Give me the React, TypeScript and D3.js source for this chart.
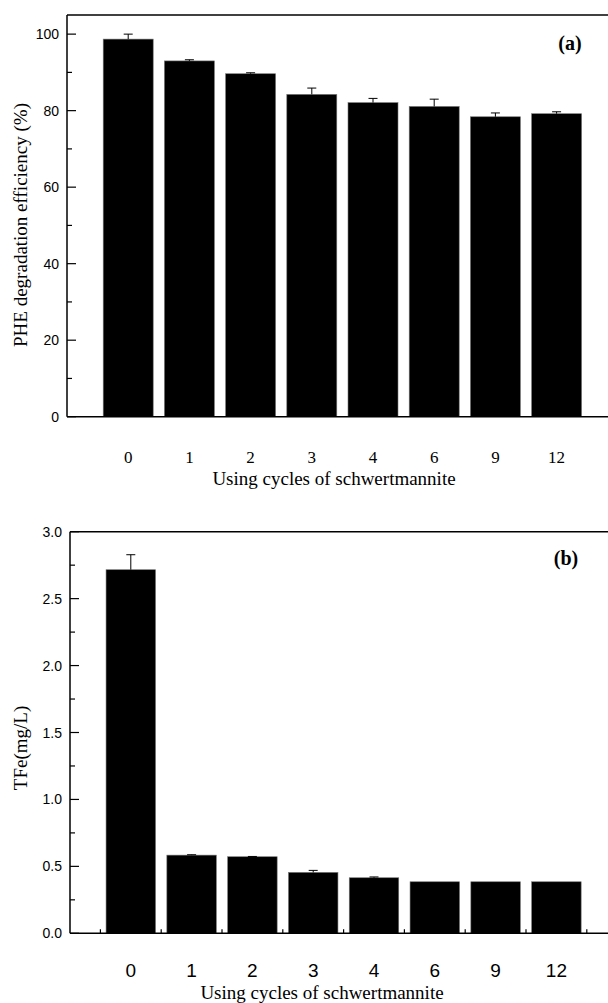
import React from "react";
import * as d3 from "d3";

const cycles = ["0", "1", "2", "3", "4", "6", "9", "12"];
const pheEfficiency = [98.7, 93.0, 89.65, 84.25, 82.1, 81.1, 78.4, 79.2];
const pheError = [1.3, 0.3, 0.25, 1.65, 1.1, 1.9, 1.0, 0.5];
const tfeValues = [2.716, 0.584, 0.572, 0.455, 0.415, 0.385, 0.385, 0.385];
const tfeError = [0.112, 0.003, 0.002, 0.015, 0.006, 0, 0, 0];
const yTicksA = [0, 20, 40, 60, 80, 100];
const yMinorA = [10, 30, 50, 70, 90];
const yTicksB = [0, 0.5, 1.0, 1.5, 2.0, 2.5, 3.0];
const yMinorB = [0.25, 0.75, 1.25, 1.75, 2.25, 2.75];

const SERIF = "'Liberation Serif', 'Times New Roman', serif";
const SANS = "'Liberation Sans', Arial, sans-serif";

type PanelProps = {
  values: number[];
  errors: number[];
  x0: number;
  step: number;
  top: number;
  bottom: number;
  yMax: number;
  ticks: number[];
  minor: number[];
  fmt: (v: number) => string;
  xLabelFont: string;
  xLabelSize: number;
  xLabelY: number;
  xTicks: boolean;
  titleX: number;
  titleY: number;
  yTitle: string;
  yTitleCenter: number;
  panelLabel: string;
  panelLabelX: number;
  panelLabelY: number;
  barW: number;
};

function Panel(p: PanelProps) {
  const x = d3.scaleLinear().domain([0, 9]).range([p.x0, p.x0 + p.step * 9]);
  const y = d3.scaleLinear().domain([0, p.yMax]).range([p.bottom, p.top]);
  const half = p.barW / 2;
  return (
    <g>
      {p.values.map((v, i) => (
        <rect
          key={"b" + i}
          x={x(i + 1) - half}
          y={y(v)}
          width={p.barW}
          height={y(0) - y(v)}
          fill="#000"
          stroke="#777"
          strokeWidth={0.6}
        />
      ))}
      {p.values.map((v, i) =>
        p.errors[i] > 0 ? (
          <g key={"e" + i} stroke="#000" strokeWidth={1}>
            <line x1={x(i + 1)} x2={x(i + 1)} y1={y(v)} y2={y(v + p.errors[i])} />
            <line x1={x(i + 1) - 4.5} x2={x(i + 1) + 4.5} y1={y(v + p.errors[i])} y2={y(v + p.errors[i])} />
          </g>
        ) : null
      )}
      <line x1={p.x0} x2={p.x0 + p.step * 9} y1={p.top} y2={p.top} stroke="#000" strokeWidth={1.5} />
      <line x1={p.x0} x2={p.x0} y1={p.top} y2={p.bottom} stroke="#000" strokeWidth={1.5} />
      <line x1={p.x0} x2={p.x0 + p.step * 9} y1={p.bottom} y2={p.bottom} stroke="#000" strokeWidth={1.5} />
      {p.ticks.map((t) => (
        <g key={"t" + t}>
          <line x1={p.x0} x2={p.x0 + 9} y1={y(t)} y2={y(t)} stroke="#000" strokeWidth={1.2} />
          <text
            x={p.x0 - 8}
            y={y(t)}
            dy="0.36em"
            textAnchor="end"
            fontFamily={SANS}
            fontSize={14}
            fill="#000"
          >
            {p.fmt(t)}
          </text>
        </g>
      ))}
      {p.minor.map((t) => (
        <line key={"m" + t} x1={p.x0} x2={p.x0 + 5} y1={y(t)} y2={y(t)} stroke="#000" strokeWidth={1.2} />
      ))}
      {p.xTicks &&
        d3.range(0, 9).map((i) => (
          <line
            key={"xt" + i}
            x1={x(i + 0.5)}
            x2={x(i + 0.5)}
            y1={p.bottom}
            y2={p.bottom - 4}
            stroke="#000"
            strokeWidth={1.2}
          />
        ))}
      {cycles.map((c, i) => (
        <text
          key={"xl" + i}
          x={x(i + 1)}
          y={p.xLabelY}
          textAnchor="middle"
          fontFamily={p.xLabelFont}
          fontSize={p.xLabelSize}
          fill="#000"
        >
          {c}
        </text>
      ))}
      <text x={p.titleX} y={p.titleY} textAnchor="middle" fontFamily={SERIF} fontSize={19} fill="#000">
        Using cycles of schwertmannite
      </text>
      <text
        transform={`translate(27,${p.yTitleCenter}) rotate(-90)`}
        textAnchor="middle"
        fontFamily={SERIF}
        fontSize={19}
        fill="#000"
      >
        {p.yTitle}
      </text>
      <text
        x={p.panelLabelX}
        y={p.panelLabelY}
        textAnchor="middle"
        fontFamily={SERIF}
        fontWeight="bold"
        fontSize={20}
        fill="#000"
      >
        {p.panelLabel}
      </text>
    </g>
  );
}

export default function App() {
  return (
    <svg
      width={608}
      height={1003}
      style={{ position: "absolute", left: 0, top: 0, background: "#fff" }}
    >
      <rect x={0} y={0} width={608} height={1003} fill="#fff" />
      <Panel
        values={pheEfficiency}
        errors={pheError}
        x0={67}
        step={61.2}
        top={15}
        bottom={416.7}
        yMax={105}
        ticks={yTicksA}
        minor={yMinorA}
        fmt={(v) => d3.format("d")(v)}
        xLabelFont={SERIF}
        xLabelSize={17}
        xLabelY={463}
        xTicks={false}
        titleX={334}
        titleY={485}
        yTitle="PHE degradation efficiency (%)"
        yTitleCenter={225}
        panelLabel="(a)"
        panelLabelX={570}
        panelLabelY={50}
        barW={50}
      />
      <Panel
        values={tfeValues}
        errors={tfeError}
        x0={70}
        step={60.8}
        top={531.7}
        bottom={933.3}
        yMax={3}
        ticks={yTicksB}
        minor={yMinorB}
        fmt={(v) => d3.format(".1f")(v)}
        xLabelFont={SANS}
        xLabelSize={19}
        xLabelY={977}
        xTicks={true}
        titleX={322}
        titleY={999}
        yTitle="TFe(mg/L)"
        yTitleCenter={748}
        panelLabel="(b)"
        panelLabelX={566}
        panelLabelY={565}
        barW={49.5}
      />
    </svg>
  );
}
